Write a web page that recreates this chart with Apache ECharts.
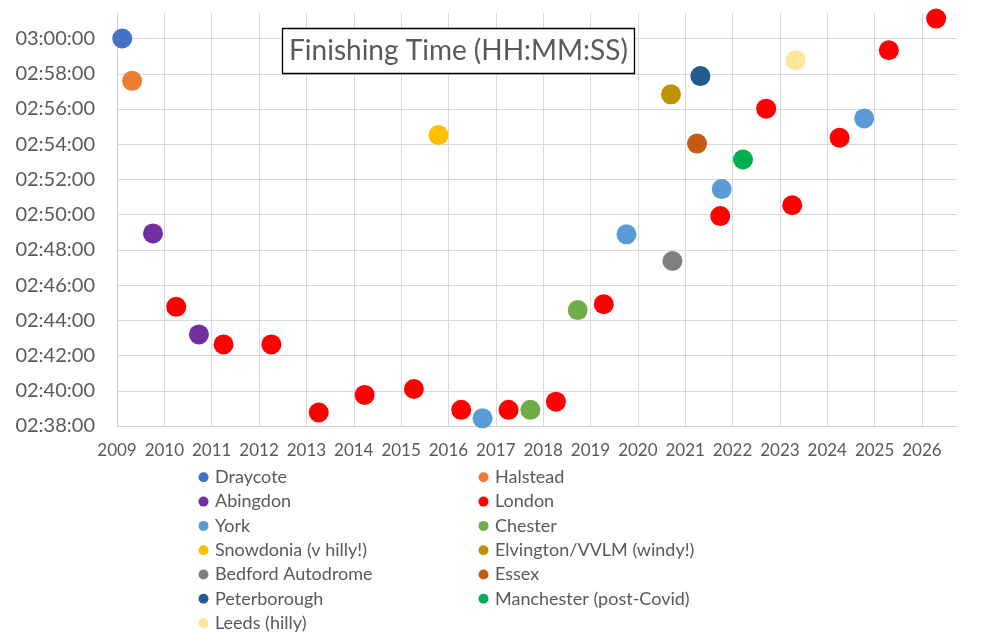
<!DOCTYPE html>
<html><head><meta charset="utf-8">
<script src="https://cdn.jsdelivr.net/npm/echarts@6/dist/echarts.min.js"></script>
<style>html,body{margin:0;padding:0;background:#fff}#c{width:991px;height:632px}</style>
</head><body><div id="c"></div>
<script>
// ---- data: [year (decimal), finishing time HH:MM:SS] ----
const draycote     = [[2009.11, '3:00:00']];
const halstead     = [[2009.32, '2:57:36']];
const abingdon     = [[2009.76, '2:48:56'], [2010.73, '2:43:12']];
const london       = [[2010.25, '2:44:46'], [2011.25, '2:42:38'], [2012.26, '2:42:38'], [2013.26, '2:38:46'],
                      [2014.23, '2:39:46'], [2015.27, '2:40:06'], [2016.27, '2:38:55'], [2017.27, '2:38:55'],
                      [2018.27, '2:39:23'], [2019.28, '2:44:55'], [2021.74, '2:49:55'], [2022.71, '2:56:01'],
                      [2023.26, '2:50:32'], [2024.26, '2:54:22'], [2025.30, '2:59:20'], [2026.30, '3:01:08']];
const york         = [[2016.72, '2:38:26'], [2019.76, '2:48:53'], [2021.77, '2:51:27'], [2024.78, '2:55:28']];
const chester      = [[2017.73, '2:38:55'], [2018.73, '2:44:35']];
const snowdonia    = [[2015.79, '2:54:31']];
const elvington    = [[2020.70, '2:56:50']];
const bedford      = [[2020.73, '2:47:22']];
const essex        = [[2021.25, '2:54:02']];
const peterborough = [[2021.32, '2:57:52']];
const manchester   = [[2022.22, '2:53:08']];
const leeds        = [[2023.33, '2:58:46']];

const seriesNames = ['Draycote', 'Halstead', 'Abingdon', 'London', 'York', 'Chester', 'Snowdonia (v hilly!)',
  'Elvington/VVLM (windy!)', 'Bedford Autodrome', 'Essex', 'Peterborough', 'Manchester (post-Covid)', 'Leeds (hilly)'];
const seriesData = [draycote, halstead, abingdon, london, york, chester, snowdonia,
  elvington, bedford, essex, peterborough, manchester, leeds];
const seriesColors = ['#4472C4', '#ED7D31', '#7030A0', '#FF0000', '#5B9BD5', '#70AD47', '#FFC000',
  '#BF9000', '#7F7F7F', '#C55A11', '#245B8F', '#00B050', '#FFE699'];

const legendLeft  = ['Draycote', 'Abingdon', 'York', 'Snowdonia (v hilly!)', 'Bedford Autodrome', 'Peterborough', 'Leeds (hilly)'];
const legendRight = ['Halstead', 'London', 'Chester', 'Elvington/VVLM (windy!)', 'Essex', 'Manchester (post-Covid)'];

const xMin = 2009, xMax = 2026.74, xStep = 1;
const yMinTime = '2:38:00', yLastLabel = '3:00:00', yMaxTime = '3:01:27', yStepMin = 2;

function toMin(t) { const p = t.split(':').map(Number); return p[0] * 60 + p[1] + p[2] / 60; }
function fmt(v) {
  const s = Math.round(v * 60);
  const h = Math.floor(s / 3600), m = Math.floor((s % 3600) / 60), sec = s % 60;
  const pad = n => String(n).padStart(2, '0');
  return pad(h) + ':' + pad(m) + ':' + pad(sec);
}
const yMin = toMin(yMinTime), yMax = toMin(yMaxTime), yLast = toMin(yLastLabel);

const font = 'Lato';
const txt = '#595959';
const chart = echarts.init(document.getElementById('c'));
const legendCommon = {
  orient: 'vertical', top: 465.3, height: 240, padding: 0, itemGap: 0.3, itemWidth: 13, itemHeight: 10, icon: 'circle',
  textStyle: { fontSize: 18, color: txt, fontFamily: font, lineHeight: 24 }
};
chart.setOption({
  animation: false,
  backgroundColor: '#fff',
  grid: { left: 117, top: 13, right: 34, bottom: 206, containLabel: false },
  xAxis: {
    type: 'value', min: xMin, max: xMax, interval: xStep,
    axisLine: { show: true, lineStyle: { color: '#CFCFCF', width: 1 } },
    axisTick: { show: false },
    axisLabel: { formatter: v => Math.abs(v - Math.round(v)) < 1e-6 ? String(Math.round(v)) : '',
      fontSize: 17, color: txt, fontFamily: font, margin: 16 },
    splitLine: { show: true, showMinLine: true, showMaxLine: false, lineStyle: { color: '#D9D9D9', width: 1 } }
  },
  yAxis: {
    type: 'value', min: yMin, max: yMax, interval: yStepMin,
    axisLine: { show: true, lineStyle: { color: '#CFCFCF', width: 1 } },
    axisTick: { show: false },
    axisLabel: { formatter: v => v > yLast + 0.01 ? '' : fmt(v), fontSize: 20, color: txt, fontFamily: font, margin: 22 },
    splitLine: { show: true, showMaxLine: false, lineStyle: { color: '#D9D9D9', width: 1 } }
  },
  legend: [
    Object.assign({ data: legendLeft, left: 198.5 }, legendCommon),
    Object.assign({ data: legendRight, left: 478.5 }, legendCommon)
  ],
  graphic: [
    { type: 'rect', z: 100, shape: { x: 282.5, y: 28.5, width: 352, height: 45 },
      style: { fill: '#fff', stroke: '#000', lineWidth: 1.3 } },
    { type: 'text', z: 101, x: 458.5, y: 51,
      style: { text: 'Finishing Time (HH:MM:SS)', font: '28px Lato', fill: txt, align: 'center', verticalAlign: 'middle' } }
  ],
  series: seriesNames.map((name, i) => ({
    name, type: 'scatter', symbol: 'circle', symbolSize: 20, clip: false,
    itemStyle: { color: seriesColors[i], opacity: 1 },
    data: seriesData[i].map(d => [d[0], toMin(d[1])])
  }))
});
</script></body></html>
